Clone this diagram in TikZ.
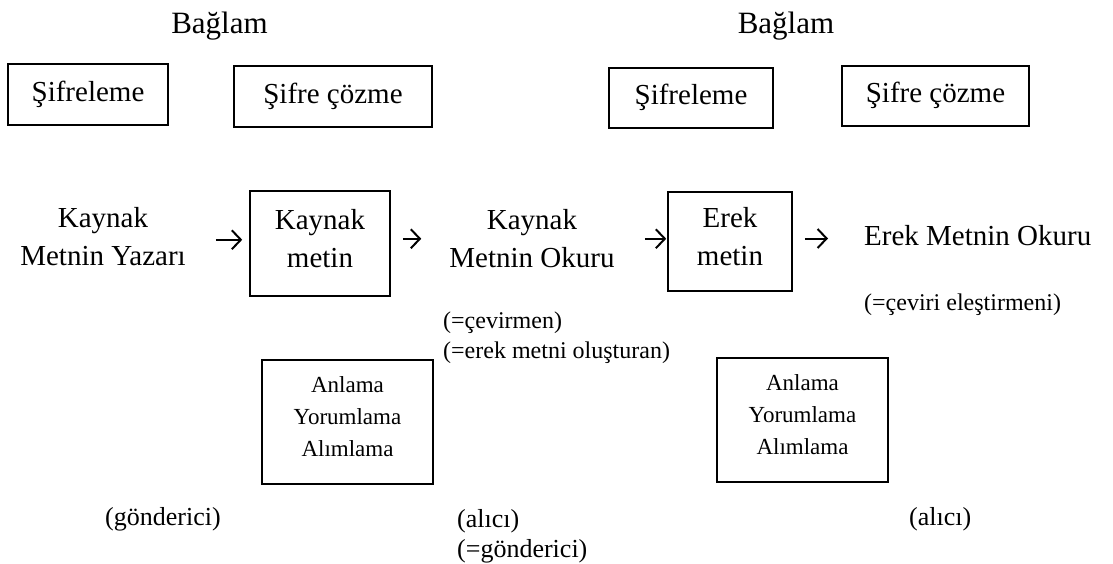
\documentclass[tikz,border=0pt]{standalone}
\usepackage{fontspec}
\setmainfont{Liberation Serif}
\usetikzlibrary{arrows.meta}
\newcommand{\stB}{\rule[-10pt]{0pt}{30pt}}
\newcommand{\stT}{\rule[-7pt]{0pt}{27pt}}
\newcommand{\stA}{\rule[-12pt]{0pt}{29pt}}
\begin{document}
\begin{tikzpicture}[x=1pt,y=-1pt,
  main/.style={font=\fontsize{29}{38.5}\selectfont, inner sep=0pt, align=center},
  ttl/.style={font=\fontsize{31}{36}\selectfont, inner sep=0pt, anchor=base},
  small/.style={font=\fontsize{24}{30}\selectfont, inner sep=0pt, anchor=base west},
  role/.style={font=\fontsize{26}{30}\selectfont, inner sep=0pt, anchor=base west},
  box/.style={draw, line width=1.6pt, inner sep=0pt, align=center},
  sbox/.style={box, font=\fontsize{29}{38.5}\selectfont, text height=20pt, text depth=7pt},
  tbox/.style={box, font=\fontsize{29}{38.5}\selectfont},
  abox/.style={box, font=\fontsize{23}{32}\selectfont, minimum width=171pt, minimum height=124pt},
  arr/.style={line width=2pt, -{Straight Barb[length=9pt,width=19pt,line width=2pt]}}
]
\useasboundingbox (0,0) rectangle (1113,563);

% context labels
\node[ttl] (ctxL) at (219.5,33) {Bağlam};
\node[ttl] (ctxR) at (786,33) {Bağlam};

% encoding / decoding boxes
\node[sbox, minimum width=160pt, minimum height=61pt] (encL) at (88,94.5) {Şifreleme};
\node[sbox, minimum width=198pt, minimum height=61pt] (decL) at (333,96.5) {Şifre çözme};
\node[sbox, minimum width=164pt, minimum height=60pt] (encR) at (691,98) {Şifreleme};
\node[sbox, minimum width=187pt, minimum height=60pt] (decR) at (935.5,96) {Şifre çözme};

% main chain
\node[main] (author) at (103,239.75) {\stT Kaynak\\Metnin Yazarı\stT};
\node[tbox, minimum width=140pt, minimum height=105pt] (kbox) at (320,243.5) {\stB Kaynak\\metin\stB};
\node[main] (reader) at (532,241.75) {\stT Kaynak\\Metnin Okuru\stT};
\node[tbox, minimum width=124pt, minimum height=99pt] (ebox) at (730,241.5) {\stB Erek\\metin\stB};
\node[main, anchor=base west] (eokur) at (864,245) {Erek Metnin Okuru};

\draw[arr, shorten <=30pt, shorten >=7pt] (author.east) -- (author.east -| kbox.west);
\draw[arr, shorten <=12pt, shorten >=28pt] ([yshift=3pt]reader.west -| kbox.east) -- ([yshift=3pt]reader.west);
\draw[arr, shorten <=30pt, shorten >=1pt] ([yshift=3pt]reader.east) -- ([yshift=3pt]reader.east -| ebox.west);
\draw[arr, shorten <=12pt, shorten >=36pt] ([yshift=3pt]ebox.east) -- ([yshift=3pt]ebox.east -| eokur.west);

% annotations
\node[small] (cev) at (443,328) {(=çevirmen)};
\node[small] (olus) at (443,358) {(=erek metni oluşturan)};
\node[small] (elest) at (864,310) {(=çeviri eleştirmeni)};

% understanding boxes
\node[abox] (anlL) at (347.5,422) {\stA Anlama\\Yorumlama\\Alımlama\stA};
\node[abox] (anlR) at (802.5,420) {\stA Anlama\\Yorumlama\\Alımlama\stA};

% roles
\node[role] (gond) at (105,525) {(gönderici)};
\node[role] (alici1) at (457,527) {(alıcı)};
\node[role] (gond2) at (457,557) {(=gönderici)};
\node[role] (alici2) at (909,525) {(alıcı)};
\end{tikzpicture}
\end{document}
